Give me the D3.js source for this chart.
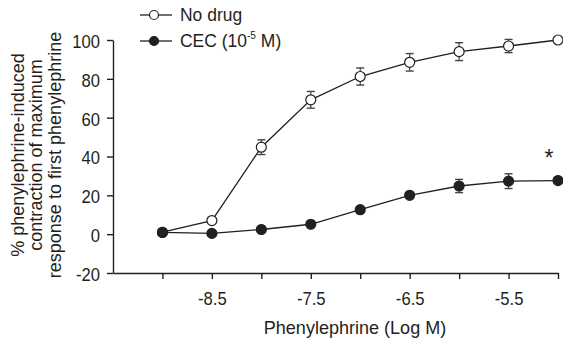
<!DOCTYPE html>
<html><head><meta charset="utf-8">
<script src="https://cdn.jsdelivr.net/npm/d3@7"></script>
<style>
body{margin:0;background:#fff;}
svg text{font-family:"Liberation Sans",Arial,sans-serif;fill:#231f20;}
</style></head><body>
<svg id="c" width="563" height="344"></svg>
<script>
const doses = [-9, -8.5, -8, -7.5, -7, -6.5, -6, -5.5, -5];
const noDrug = [1, 7, 44.8, 69.2, 81.2, 88.5, 94, 96.9, 100];
const noDrugErr = [0, 0, 3.8, 4.3, 4.4, 4.5, 4.6, 3.4, 0];
const cec = [0.9, 0.4, 2.4, 5.1, 12.6, 20, 24.8, 27.3, 27.6];
const cecErr = [0, 0, 0, 0, 0, 0, 3.4, 3.8, 0];
const xTicks = [-9, -8.5, -8, -7.5, -7, -6.5, -6, -5.5, -5];
const xLabelTicks = [-8.5, -7.5, -6.5, -5.5];
const yTicks = [-20, 0, 20, 40, 60, 80, 100];
const seriesNames = ["No drug", "CEC (10", "-5", " M)"];
const yTitle = ["% phenylephrine-induced", "contraction of maximum", "response to first phenylephrine"];
const xTitle = "Phenylephrine (Log M)";

const svg = d3.select("#c");
const x = d3.scaleLinear().domain([-9.5, -5]).range([113, 558]);
const y = d3.scaleLinear().domain([-20, 100]).range([273, 40]);

function squeeze(sel, sx) {
  sel.each(function () {
    const t = d3.select(this);
    const tx = t.attr("x");
    if (tx !== null) t.attr("x", (+tx) / sx);
    const tr = t.attr("transform") || "";
    t.attr("transform", (tr + ` scale(${sx},1)`).trim());
    t.selectAll("tspan").each(function () {
      const s = d3.select(this); const sxp = s.attr("x");
      if (sxp !== null) s.attr("x", (+sxp) / sx);
    });
  });
}

const xa = svg.append("g").attr("transform", `translate(0,${y(-20)})`)
  .call(d3.axisBottom(x).tickValues(xTicks).tickSize(6).tickSizeOuter(0)
    .tickFormat(d => xLabelTicks.includes(d) ? d.toFixed(1) : ""));
xa.selectAll("text").attr("font-size", 18.5).attr("dy", null).attr("y", 32);
const ya = svg.append("g").attr("transform", `translate(${x(-9.5)},0)`)
  .call(d3.axisLeft(y).tickValues(yTicks).tickSize(6).tickSizeOuter(0).tickPadding(7).tickFormat(d => String(d)));
ya.selectAll("text").attr("font-size", 18.5).attr("dy", "0.4em");
svg.selectAll(".domain, .tick line").attr("stroke", "#231f20").attr("stroke-width", 1.4);
squeeze(svg.selectAll(".tick text"), 0.9);

const line = d3.line().x((d, i) => x(doses[i])).y(d => y(d));
function drawSeries(vals, errs, fill) {
  svg.append("path").datum(vals).attr("d", line).attr("fill", "none").attr("stroke", "#231f20").attr("stroke-width", 1.3);
  const g = svg.append("g");
  vals.forEach((v, i) => {
    if (errs[i] > 0) {
      const cx = x(doses[i]);
      g.append("line").attr("x1", cx).attr("x2", cx).attr("y1", y(v + errs[i])).attr("y2", y(v - errs[i])).attr("stroke", "#444").attr("stroke-width", 1.2);
      [v + errs[i], v - errs[i]].forEach(e => g.append("line").attr("x1", cx - 4).attr("x2", cx + 4).attr("y1", y(e)).attr("y2", y(e)).attr("stroke", "#444").attr("stroke-width", 1.4));
    }
  });
  vals.forEach((v, i) => {
    g.append("circle").attr("cx", x(doses[i])).attr("cy", y(v)).attr("r", 5)
      .attr("fill", fill).attr("stroke", "#231f20").attr("stroke-width", 1.2);
  });
}
drawSeries(noDrug, noDrugErr, "#fff");
drawSeries(cec, cecErr, "#231f20");

svg.append("text").attr("x", x(-5) - 9).attr("y", y(35)).attr("font-size", 23).attr("text-anchor", "middle").text("*");

// legend
const leg = [{y: 15, fill: "#fff"}, {y: 41, fill: "#231f20"}];
leg.forEach((l, i) => {
  svg.append("line").attr("x1", 140).attr("x2", 172).attr("y1", l.y).attr("y2", l.y).attr("stroke", "#231f20").attr("stroke-width", 1.3);
  svg.append("circle").attr("cx", 154).attr("cy", l.y).attr("r", 4.5).attr("fill", l.fill).attr("stroke", "#231f20").attr("stroke-width", 1.2);
});
const legTexts = svg.append("g");
legTexts.append("text").attr("x", 180).attr("y", 21.5).attr("font-size", 19).text(seriesNames[0]);
const t2 = legTexts.append("text").attr("x", 180).attr("y", 47).attr("font-size", 19);
t2.append("tspan").text(seriesNames[1]);
t2.append("tspan").attr("font-size", 11).attr("dy", -7.5).text(seriesNames[2]);
t2.append("tspan").attr("dy", 7.5).text(seriesNames[3]);
squeeze(legTexts.selectAll("text"), 0.92);

// titles
const yt = svg.append("text").attr("transform", `translate(0,155) rotate(-90)`).attr("text-anchor", "middle").attr("font-size", 19);
yTitle.forEach((s, i) => yt.append("tspan").attr("x", 0).attr("y", 24 + i * 18.5).text(s));
const xt = svg.append("text").attr("x", 355).attr("y", 334).attr("text-anchor", "middle").attr("font-size", 19).text(xTitle);
squeeze(yt, 0.95);
squeeze(xt, 0.95);
</script></body></html>
